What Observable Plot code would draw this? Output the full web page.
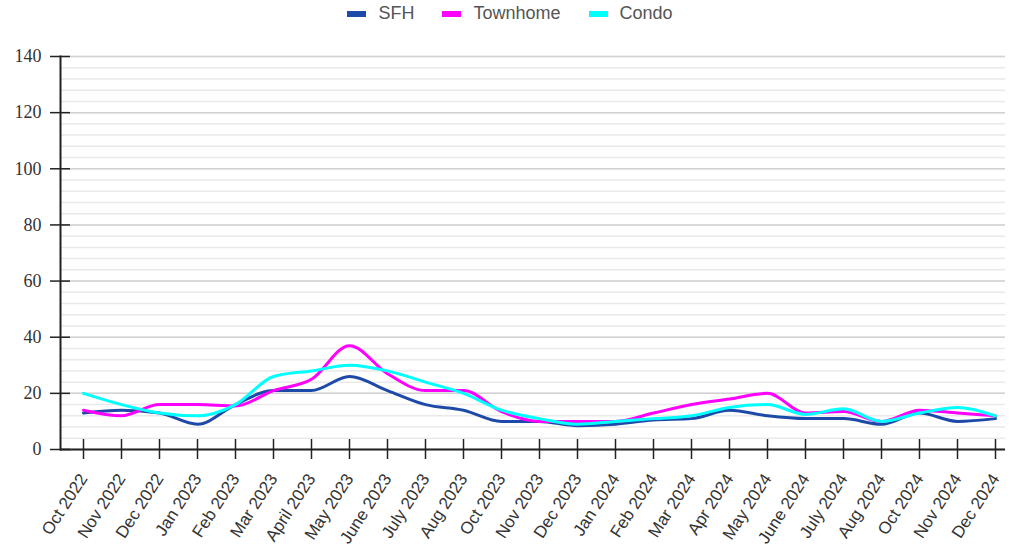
<!DOCTYPE html>
<html><head><meta charset="utf-8">
<script src="https://cdn.jsdelivr.net/npm/d3@7"></script>
<script src="https://cdn.jsdelivr.net/npm/@observablehq/plot@0.6"></script>
<style>
body{margin:0;background:#fff;}
#legend{height:27px;display:flex;justify-content:center;align-items:center;padding-left:10px;font:18px "Liberation Sans",Arial,sans-serif;color:#555;}
.item{display:flex;align-items:center;margin:0 14px;}
.sw{width:19px;height:6px;margin-right:12px;}
#chart svg{display:block;}
</style></head><body>
<div id="legend"></div>
<div id="chart"></div>
<script>
const categories = ["Oct 2022","Nov 2022","Dec 2022","Jan 2023","Feb 2023","Mar 2023","April 2023","May 2023","June 2023","July 2023","Aug 2023","Oct 2023","Nov 2023","Dec 2023","Jan 2024","Feb 2024","Mar 2024","Apr 2024","May 2024","June 2024","July 2024","Aug 2024","Oct 2024","Nov 2024","Dec 2024"];
const sfh      = [13, 14, 13, 9, 16, 21, 21, 26, 21, 16, 14, 10, 10, 8.5, 9, 10.5, 11, 14, 12, 11, 11, 9, 13, 10, 11];
const townhome = [14, 12, 16, 16, 15.5, 21, 25, 37, 27, 21, 21, 13.5, 10, 10, 10, 13, 16, 18, 20, 13, 13.5, 10, 14, 13, 12];
const condo    = [20, 16, 13, 12, 16, 26, 28, 30, 28, 24, 20, 14, 11, 9, 10, 11, 12, 15, 16, 12.5, 14.5, 10, 13, 15, 12];
const seriesNames = ["SFH", "Townhome", "Condo"];
const seriesColors = ["#1d4aa8", "#ff00ff", "#00ffff"];
const yTicks = d3.range(0, 141, 20);
const minorTicks = d3.range(0, 141, 4);

const seriesValues = [sfh, townhome, condo];
const rows = [];
seriesNames.forEach((s, i) => categories.forEach((c, j) => rows.push({series: s, month: c, value: seriesValues[i][j]})));

// legend
const legend = document.getElementById("legend");
seriesNames.forEach((s, i) => {
  const it = document.createElement("div"); it.className = "item";
  const sw = document.createElement("div"); sw.className = "sw"; sw.style.background = seriesColors[i];
  const tx = document.createElement("span"); tx.textContent = s;
  it.appendChild(sw); it.appendChild(tx); legend.appendChild(it);
});

const chart = Plot.plot({
  width: 1010,
  height: 526,
  marginTop: 29,
  marginBottom: 104,
  marginLeft: 60,
  marginRight: 5,
  style: {background: "#fff", color: "#222"},
  x: {type: "point", domain: categories, padding: 0, insetLeft: 19, insetRight: 6, label: null},
  y: {domain: [0, 140], label: null},
  color: {domain: seriesNames, range: seriesColors},
  marks: [
    Plot.ruleY(minorTicks, {stroke: "#e9e9e9", strokeWidth: 1.5}),
    Plot.ruleY(yTicks, {stroke: "#d2d2d2", strokeWidth: 1.5}),
    Plot.axisY(yTicks, {tickSize: 20, dx: 10, tickPadding: 9, fontSize: 18, fontFamily: "Liberation Serif, Times New Roman, serif", fill: "#333", strokeWidth: 1.5}),
    Plot.axisX(categories, {tickSize: 20, dy: -10, tickRotate: -57, tickPadding: 16, fontSize: 17, fontFamily: "Liberation Sans, Arial, sans-serif", fill: "#333", strokeWidth: 1.5}),
    Plot.ruleY([0], {stroke: "#222", strokeWidth: 2}),
    Plot.frame({anchor: "left", stroke: "#222", strokeWidth: 2}),
    Plot.line(rows, {x: "month", y: "value", z: "series", stroke: "series", strokeWidth: 3, curve: "monotone-x"})
  ]
});
document.getElementById("chart").appendChild(chart);
</script>
</body></html>
